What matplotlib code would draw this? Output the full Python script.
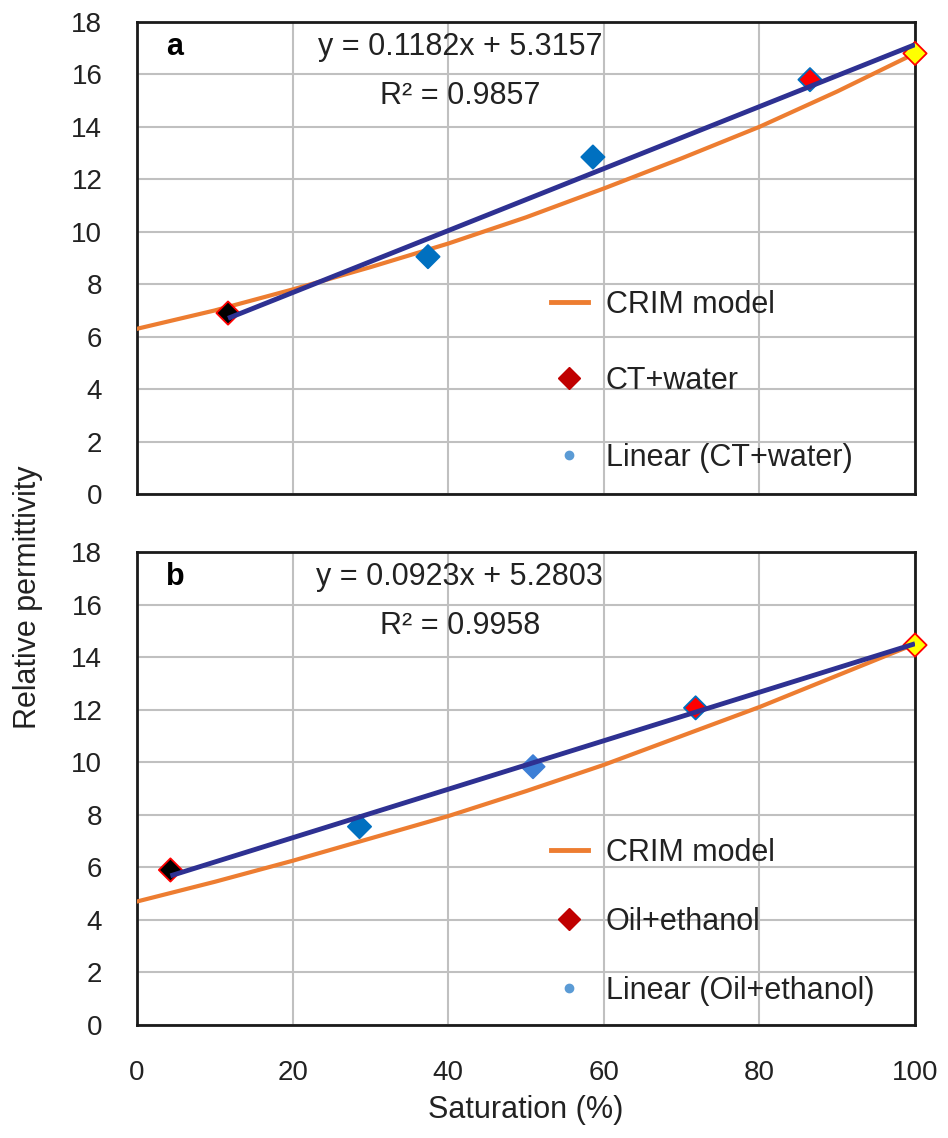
import matplotlib
matplotlib.use('Agg')
from matplotlib import pyplot as plt
from matplotlib.lines import Line2D
import numpy as np

plt.rcParams['font.family'] = ['Liberation Sans', 'DejaVu Sans']

# CRIM model curves
crim_x = [0, 10, 20, 30, 40, 50, 60, 70, 80, 90, 100]
crim_a = [6.3, 7.0, 7.8, 8.65, 9.55, 10.55, 11.65, 12.8, 14.0, 15.35, 16.8]
crim_b = [4.7, 5.45, 6.25, 7.1, 7.95, 8.9, 9.9, 11.0, 12.1, 13.3, 14.5]

# measured points
sat_a = [11.7, 37.4, 58.6, 86.5, 100]
eps_a = [6.9, 9.05, 12.85, 15.8, 16.8]
sat_b = [4.3, 28.6, 50.9, 71.8, 100]
eps_b = [5.9, 7.55, 9.83, 12.07, 14.46]

# linear trend lines (slope, intercept, R2)
fit_a = (0.1182, 5.3157, 0.9857)
fit_b = (0.0923, 5.2803, 0.9958)

face_a = ['black', '#0070c0', '#0070c0', '#ff0000', '#ffff00']
edge_a = ['#ff0000', '#0070c0', '#0070c0', '#0070c0', '#ff0000']
face_b = ['black', '#0070c0', '#3d7fd6', '#ff0000', '#ffff00']
edge_b = ['#ff0000', '#0070c0', '#3d7fd6', '#0070c0', '#ff0000']

orange = '#ed7d31'
navy = '#2e3192'

fig = plt.figure(figsize=(9.48, 11.38), dpi=100)
ax1 = fig.add_axes([0.1445, 0.5659, 0.8207, 0.4148])
ax2 = fig.add_axes([0.1445, 0.0993, 0.8207, 0.4156])

panels = [
    (ax1, 'a', sat_a, eps_a, crim_a, fit_a, face_a, edge_a, 'CT+water', 0.239, 1.52),
    (ax2, 'b', sat_b, eps_b, crim_b, fit_b, face_b, edge_b, 'Oil+ethanol', 0.218, 1.28),
]

for ax, tag, sx, sy, crim, fit, fc, ec, name, leg_y, spacing in panels:
    ax.set_xlim(0, 100)
    ax.set_ylim(0, 18)
    ax.set_xticks(range(0, 101, 20))
    ax.set_yticks(range(0, 19, 2))
    ax.grid(True, color='#c0c0c0', linewidth=1.5)
    ax.set_axisbelow(True)
    for s in ax.spines.values():
        s.set_linewidth(2.0)
        s.set_color('#1a1a1a')
    ax.tick_params(length=0, pad=25, labelsize=20, colors='#222222')

    ax.plot(crim_x, crim, color=orange, linewidth=3, zorder=3)
    ax.scatter(sx, sy, marker='D', s=140, facecolors=fc, edgecolors=ec,
               linewidths=1.3, zorder=4, clip_on=False)
    xs = np.array([min(sx), max(sx)])
    ax.plot(xs, fit[0] * xs + fit[1], color=navy, linewidth=3.5, zorder=5,
            solid_capstyle='butt')

    ax.text(0.037, 0.948, tag, transform=ax.transAxes, fontsize=22,
            fontweight='bold', ha='left', va='center')
    ax.text(0.415, 0.947, 'y = %.4fx + %.4f' % (fit[0], fit[1]),
            transform=ax.transAxes, fontsize=22, ha='center', va='center',
            color='#222222')
    ax.text(0.415, 0.843, 'R² = %.4f' % fit[2], transform=ax.transAxes,
            fontsize=22, ha='center', va='center', color='#222222')

    handles = [
        Line2D([], [], color=orange, linewidth=3.5),
        Line2D([], [], marker='D', linestyle='none', markersize=11,
               markerfacecolor='#c00000', markeredgecolor='#c00000'),
        Line2D([], [], marker='o', linestyle='none', markersize=6,
               markerfacecolor='#5b9bd5', markeredgecolor='#5b9bd5'),
    ]
    labels = ['CRIM model', name, 'Linear (%s)' % name]
    ax.legend(handles, labels, loc='center left', bbox_to_anchor=(0.532, leg_y),
              frameon=False, fontsize=22, handlelength=1.2, handletextpad=0.6,
              labelspacing=spacing, borderpad=0, borderaxespad=0,
              labelcolor='#222222')

ax1.set_xticklabels([])

fig.text(0.03, 0.475, 'Relative permittivity', rotation=90, fontsize=22,
         ha='center', va='center', color='#222222')
fig.text(0.555, 0.025, 'Saturation (%)', fontsize=22, ha='center',
         va='center', color='#222222')

plt.savefig('out.png', dpi=100)
